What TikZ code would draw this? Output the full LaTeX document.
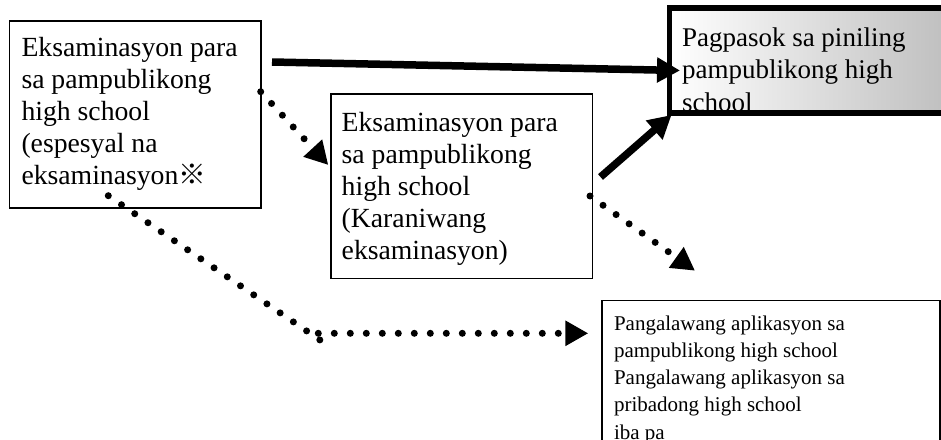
\documentclass[tikz,border=0pt]{standalone}
\usepackage{fontspec}
\setmainfont{Liberation Serif}
\newfontfamily\cjkfont{Noto Sans CJK JP}
\usetikzlibrary{arrows.meta}
\newcommand\txtline[1]{\hbox{#1}}
\tikzset{
  box/.style={draw, line width=1.5pt, inner sep=0pt, outer sep=0pt, anchor=north west},
  gradbox/.style={draw, line width=5.5pt, inner sep=0pt, outer sep=0pt, anchor=north west,
    left color=white, right color=black!27},
  txt/.style={anchor=base west, inner sep=0pt, outer sep=0pt},
  thickarrow/.style={line width=7.5pt, -{Triangle[length=23pt,width=24pt]}},
  dotline/.style={line width=7pt, line cap=round, dash pattern=on 0pt off 16pt},
  dotarrow/.style={dotline, -{Triangle[length=23pt,width=24pt]}},
}
\begin{document}
\begin{tikzpicture}[x=1pt,y=-1pt]
\useasboundingbox (0,0) rectangle (941,439);
\clip (0,0) rectangle (941,439);
% boxes
\node[box, minimum width=251.5pt, minimum height=187pt] (b1) at (9.5,21) {};
\node[box, minimum width=261.5pt, minimum height=184.5pt] (b2) at (331,94) {};
\node[gradbox, minimum width=300pt, minimum height=105pt] (b3) at (669.5,8) {};
\node[box, minimum width=338pt, minimum height=160pt] (b4) at (602,300.5) {};
% texts
\node[txt] (t1) at (21.5,56.7) {\fontsize{27.7pt}{32pt}\selectfont\vtop{%
  \txtline{Eksaminasyon para}\txtline{sa pampublikong}\txtline{high school}%
  \txtline{(espesyal na}\txtline{eksaminasyon{\cjkfont ※}}}};
\node[txt] (t2) at (341.7,131.7) {\fontsize{27.7pt}{32pt}\selectfont\vtop{%
  \txtline{Eksaminasyon para}\txtline{sa pampublikong}\txtline{high school}%
  \txtline{(Karaniwang}\txtline{eksaminasyon)}}};
\begin{scope}
  \clip (672,10.5) rectangle (960,109.5);
  \node[txt] (t3) at (682,46) {\fontsize{27pt}{32.5pt}\selectfont\vtop{%
    \txtline{Pagpasok sa piniling}\txtline{pampublikong high}\txtline{school}}};
\end{scope}
\node[txt] (t4) at (614,330) {\fontsize{21pt}{27.3pt}\selectfont\vtop{%
  \txtline{Pangalawang aplikasyon sa}\txtline{pampublikong high school}%
  \txtline{Pangalawang aplikasyon sa}\txtline{pribadong high school}\txtline{iba pa}}};
% connector end points
\coordinate (a1s) at (272,62);
\coordinate (a1e) at (680,70.5);
\coordinate (a2s) at (600.5,177);
\coordinate (a2e) at (671.5,115);
\coordinate (a3s) at (260.7,91.7);
\coordinate (a3e) at (328.3,165);
\coordinate (a4s) at (590,196);
\coordinate (a4e) at (695,270.7);
\coordinate (a5s) at (108.3,195.7);
\coordinate (a5m) at (323.3,342.3);
\coordinate (a5h) at (318.3,333.3);
\coordinate (a5e) at (588.3,333.3);
% connectors
\draw[thickarrow] (a1s) -- (a1e);
\draw[thickarrow] (a2s) -- (a2e);
\draw[dotarrow] (a3s) -- (a3e);
\draw[dotarrow] (a4s) -- (a4e);
\draw[dotline] (a5s) -- (a5m);
\draw[dotarrow] (a5h) -- (a5e);
\end{tikzpicture}
\end{document}
